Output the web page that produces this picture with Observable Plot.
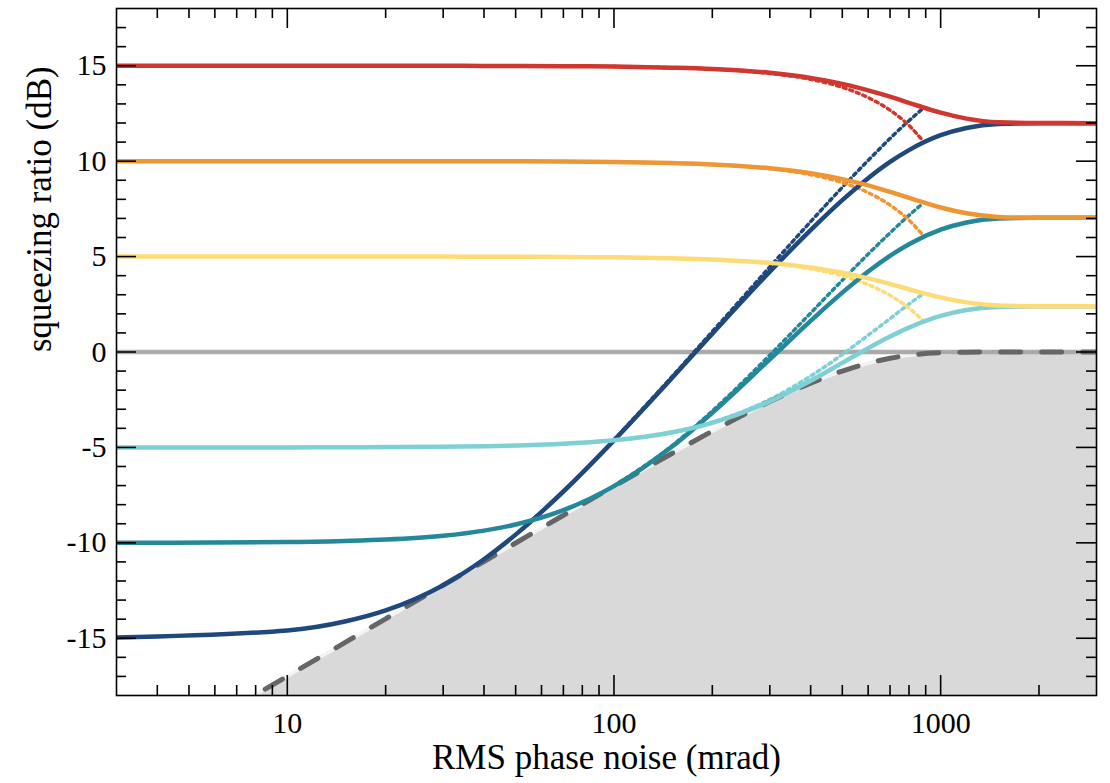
<!DOCTYPE html>
<html>
<head>
<meta charset="utf-8">
<script src="https://cdn.jsdelivr.net/npm/d3@7"></script>
<script src="https://cdn.jsdelivr.net/npm/@observablehq/plot@0.6"></script>
<style>
  html, body { margin: 0; padding: 0; background: #fff; }
</style>
</head>
<body>
<div id="chart"></div>
<script>
// ---------- data ----------
// RMS phase noise (mrad) sample positions for the solid curves
const noise = [3, 10, 15, 20, 30, 40, 50, 70, 100, 150, 200, 300, 400, 500, 600, 700, 800, 1000, 1200, 1500, 2000, 3000];
// squeezing ratio (dB), solid curves
const antiSq15 = [15.00, 15.00, 15.00, 15.00, 15.00, 14.99, 14.99, 14.98, 14.96, 14.90, 14.83, 14.63, 14.36, 14.05, 13.71, 13.38, 13.06, 12.54, 12.23, 12.04, 12.00, 11.99];
const antiSq10 = [10.00, 10.00, 10.00, 10.00, 10.00, 9.99, 9.99, 9.98, 9.96, 9.90, 9.83, 9.63, 9.37, 9.06, 8.73, 8.39, 8.08, 7.57, 7.27, 7.08, 7.03, 7.03];
const antiSq5  = [5.00, 5.00, 5.00, 5.00, 5.00, 4.99, 4.99, 4.98, 4.96, 4.91, 4.85, 4.67, 4.43, 4.15, 3.86, 3.57, 3.29, 2.86, 2.60, 2.44, 2.40, 2.40];
const sq5      = [-5.00, -5.00, -4.99, -4.98, -4.97, -4.94, -4.90, -4.81, -4.63, -4.22, -3.71, -2.59, -1.51, -0.57, 0.20, 0.81, 1.28, 1.89, 2.20, 2.36, 2.40, 2.40];
const sq10     = [-10.00, -9.96, -9.90, -9.83, -9.63, -9.36, -9.04, -8.29, -7.03, -4.98, -3.18, -0.38, 1.63, 3.11, 4.22, 5.04, 5.65, 6.41, 6.79, 6.99, 7.03, 7.03];
const sq15     = [-14.96, -14.59, -14.12, -13.54, -12.22, -10.86, -9.57, -7.31, -4.63, -1.39, 0.96, 4.21, 6.39, 7.96, 9.11, 9.96, 10.58, 11.36, 11.74, 11.95, 11.99, 11.99];

// dotted curves
const noiseDotted = [100, 150, 200, 300, 400, 500, 600, 700, 800, 880];
const antiSq15Dot = [14.96, 14.90, 14.83, 14.60, 14.29, 13.87, 13.33, 12.67, 11.87, 11.09];
const antiSq10Dot = [9.96, 9.90, 9.83, 9.61, 9.29, 8.88, 8.35, 7.70, 6.91, 6.15];
const antiSq5Dot  = [4.96, 4.91, 4.84, 4.65, 4.36, 3.99, 3.53, 2.97, 2.30, 1.68];
const sq5Dot      = [-4.63, -4.20, -3.68, -2.48, -1.26, -0.13, 0.88, 1.75, 2.51, 3.03];
const sq10Dot     = [-7.02, -4.93, -3.09, -0.16, 2.04, 3.76, 5.13, 6.24, 7.16, 7.77];
const sq15Dot     = [-4.60, -1.32, 1.07, 4.46, 6.83, 8.63, 10.04, 11.19, 12.12, 12.74];

// dashed lower bound (shaded region below it)
const noiseBound = [7, 10, 15, 20, 30, 40, 50, 70, 100, 150, 200, 300, 400, 500, 600, 700, 800, 1000, 1200, 1500, 2000, 3000];
const bound = [-18.54, -16.99, -15.23, -13.98, -12.22, -10.98, -10.01, -8.56, -7.03, -5.33, -4.15, -2.60, -1.63, -1.00, -0.59, -0.33, -0.17, -0.04, -0.01, 0.00, 0.00, 0.00];

// axes
const xDomain = [3, 3000];
const yDomain = [-18, 18];
const xMajor = [10, 100, 1000];
const xMinor = [4, 5, 6, 7, 8, 9, 20, 30, 40, 50, 60, 70, 80, 90, 200, 300, 400, 500, 600, 700, 800, 900, 2000];
const yMajor = [-15, -10, -5, 0, 5, 10, 15];
const yMinor = [-17, -16, -14, -13, -12, -11, -9, -8, -7, -6, -4, -3, -2, -1, 1, 2, 3, 4, 6, 7, 8, 9, 11, 12, 13, 14, 16, 17];
const zeroLine = [0];
const xLabel = "RMS phase noise (mrad)";
const yLabel = "squeezing ratio (dB)";

// ---------- build ----------
const rows = (xs, ys) => xs.map((x, i) => ({x, y: ys[i]}));

const W = 1110, H = 783;
const mL = 116, mR = 14, mT = 8, mB = 88;
const plotW = W - mL - mR, plotH = H - mT - mB;

const solid = [
  [sq15, "#1f497d"], [sq10, "#23899a"], [sq5, "#7fd0d5"],
  [antiSq5, "#fddc77"], [antiSq10, "#ee9634"], [antiSq15, "#d0372f"]
];
const dotted = [
  [sq15Dot, "#1f497d"], [sq10Dot, "#23899a"], [sq5Dot, "#7fd0d5"],
  [antiSq5Dot, "#fddc77"], [antiSq10Dot, "#ee9634"], [antiSq15Dot, "#d0372f"]
];

const boundRows = rows(noiseBound, bound);
const tickW = 1.6;

const chart = Plot.plot({
  width: W, height: H,
  marginLeft: mL, marginRight: mR, marginTop: mT, marginBottom: mB,
  x: {type: "log", domain: xDomain},
  y: {domain: yDomain},
  style: {fontFamily: "'Liberation Serif', 'DejaVu Serif', serif", fontSize: "30px", background: "#fff", color: "#000"},
  marks: [
    Plot.areaY(boundRows, {x: "x", y1: () => yDomain[0], y2: "y", fill: "#d9d9d9", curve: "monotone-x", clip: true}),
    Plot.line(boundRows, {x: "x", y: "y", stroke: "#f4f4f4", strokeWidth: 3.5, curve: "monotone-x", clip: true}),
    Plot.ruleY(zeroLine, {stroke: "#aaaaaa", strokeWidth: 4.5}),
    ...dotted.map(([ys, c]) => Plot.line(rows(noiseDotted, ys), {x: "x", y: "y", stroke: c, strokeWidth: 3.5, strokeDasharray: "3 4", curve: "monotone-x", clip: true})),
    Plot.line(boundRows, {x: "x", y: "y", stroke: "#666666", strokeWidth: 5, strokeDasharray: "20 21", strokeDashoffset: 8, curve: "monotone-x", clip: true}),
    ...solid.map(([ys, c]) => Plot.line(rows(noise, ys), {x: "x", y: "y", stroke: c, strokeWidth: 4.5, curve: "monotone-x", clip: true})),
    // inward ticks on all four sides
    Plot.ruleX(xMajor, {x: d => d, insetTop: plotH - 20, stroke: "#000", strokeWidth: tickW}),
    Plot.ruleX(xMinor, {x: d => d, insetTop: plotH - 10, stroke: "#000", strokeWidth: tickW}),
    Plot.ruleX(xMajor, {x: d => d, insetBottom: plotH - 20, stroke: "#000", strokeWidth: tickW}),
    Plot.ruleX(xMinor, {x: d => d, insetBottom: plotH - 10, stroke: "#000", strokeWidth: tickW}),
    Plot.ruleY(yMajor, {y: d => d, insetRight: plotW - 20, stroke: "#000", strokeWidth: tickW}),
    Plot.ruleY(yMinor, {y: d => d, insetRight: plotW - 10, stroke: "#000", strokeWidth: tickW}),
    Plot.ruleY(yMajor, {y: d => d, insetLeft: plotW - 20, stroke: "#000", strokeWidth: tickW}),
    Plot.ruleY(yMinor, {y: d => d, insetLeft: plotW - 10, stroke: "#000", strokeWidth: tickW}),
    Plot.frame({stroke: "#000", strokeWidth: 1.6}),
    Plot.axisX(xMajor, {tickSize: 0, tickPadding: 16, tickFormat: d => String(d), label: null, fontSize: 30}),
    Plot.axisY(yMajor, {tickSize: 0, tickPadding: 10, tickFormat: d => String(d), label: null, fontSize: 30}),
    Plot.text([xLabel], {text: d => d, frameAnchor: "bottom", dy: 73, lineAnchor: "bottom", fontSize: 35}),
    Plot.text([yLabel], {text: d => d, frameAnchor: "left", rotate: -90, dx: -66, lineAnchor: "bottom", fontSize: 35})
  ]
});
document.getElementById("chart").appendChild(chart);
</script>
</body>
</html>
